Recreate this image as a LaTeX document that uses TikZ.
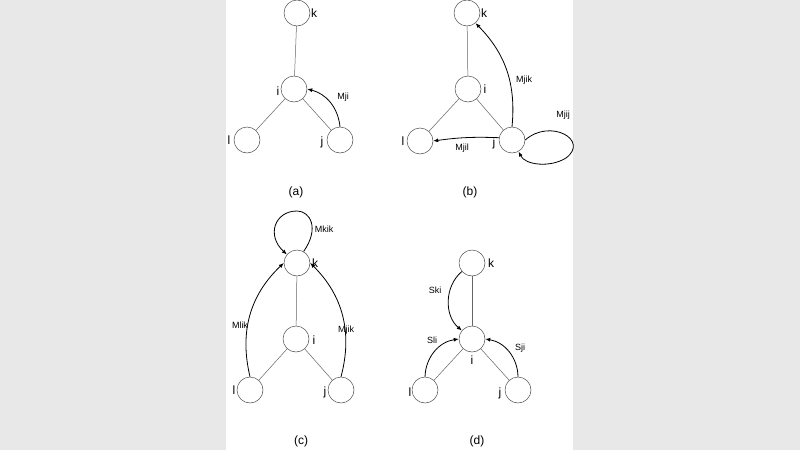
\documentclass[tikz,border=0pt]{standalone}
\usepackage{fontspec}
\setmainfont{Liberation Sans}
\usetikzlibrary{arrows.meta}
\begin{document}
\begin{tikzpicture}[x=1pt,y=-1pt,
  nd/.style={circle,draw=black!70,line width=0.5pt,minimum size=26pt,inner sep=0pt},
  ed/.style={draw=black!60,line width=0.5pt},
  ar/.style={draw=black,line width=0.8pt,-{Latex[length=5pt,width=4pt]}},
  lb/.style={font=\fontsize{9}{9}\selectfont},
  ll/.style={font=\fontsize{12}{12}\selectfont}]
\fill[black!9] (0,0) rectangle (800,450);
\fill[white] (226,0) rectangle (573,450);
\useasboundingbox (0,0) rectangle (800,450);
% (a)
\node[nd] (ak) at (297,13) {}; \node[ll] at (314,13) {k};
\node[nd] (ai) at (294,89) {}; \node[ll] at (278,91) {i};
\node[nd] (al) at (247,140) {}; \node[ll] at (229,140) {l};
\node[nd] (aj) at (340,140) {}; \node[ll] at (322,142) {j};
\draw[ed] (ak)--(ai); \draw[ed] (ai)--(al); \draw[ed] (ai)--(aj);
\draw[ar] (aj.north) to[bend right=35] (ai.east);
\node[lb] at (343,97) {Mji};
\node[ll] at (296,192) {(a)};
% (b)
\node[nd] (bk) at (467,13) {}; \node[ll] at (484,13) {k};
\node[nd] (bi) at (468,89) {}; \node[ll] at (485,89) {i};
\node[nd] (bl) at (420,141) {}; \node[ll] at (403,141) {l};
\node[nd] (bj) at (512,140) {}; \node[ll] at (494,143) {j};
\draw[ed] (bk)--(bi); \draw[ed] (bi)--(bl); \draw[ed] (bi)--(bj);
\draw[ar] (bj.north) to[bend right=25] (bk.-50);
\draw[ar] (bj.170) to[bend right=5] (bl.east);
\draw[ar] (bj.east) .. controls (550,118) and (590,140) .. (566,158) .. controls (550,168) and (525,165) .. (bj.-60);
\node[lb] at (524,80) {Mjik};
\node[lb] at (462,148) {Mjil};
\node[lb] at (563,115) {Mjij};
\node[ll] at (470,192) {(b)};
% (c)
\node[nd] (ck) at (297,263) {}; \node[ll] at (315,263) {k};
\node[nd] (ci) at (296,339) {}; \node[ll] at (314,340) {i};
\node[nd] (cl) at (250,390) {}; \node[ll] at (234,390) {l};
\node[nd] (cj) at (341,390) {}; \node[ll] at (325,392) {j};
\draw[ed] (ck)--(ci); \draw[ed] (ci)--(cl); \draw[ed] (ci)--(cj);
\draw[ar] (ck.60) .. controls (320,228) and (310,211) .. (297,211) .. controls (275,211) and (266,235) .. (ck.140);
\draw[ar] (cl.north) to[bend left=30] (ck.west);
\draw[ar] (cj.north) to[bend right=30] (ck.east);
\node[lb] at (324,229) {Mkik};
\node[lb] at (240,325) {Mlik};
\node[lb] at (346,330) {Mjik};
\node[ll] at (301,441) {(c)};
% (d)
\node[nd] (dk) at (472,263) {}; \node[ll] at (491,263) {k};
\node[nd] (di) at (472,339) {}; \node[ll] at (472,360) {i};
\node[nd] (dl) at (425,390) {}; \node[ll] at (410,392) {l};
\node[nd] (dj) at (518,390) {}; \node[ll] at (500,393) {j};
\draw[ed] (dk)--(di); \draw[ed] (di)--(dl); \draw[ed] (di)--(dj);
\draw[ar] (dk.220) to[bend right=50] (di.140);
\draw[ar] (dl.north) to[bend left=40] (di.west);
\draw[ar] (dj.north) to[bend right=40] (di.east);
\node[lb] at (435,290) {Ski};
\node[lb] at (432,340) {Sli};
\node[lb] at (520,348) {Sji};
\node[ll] at (477,441) {(d)};
\end{tikzpicture}
\end{document}
